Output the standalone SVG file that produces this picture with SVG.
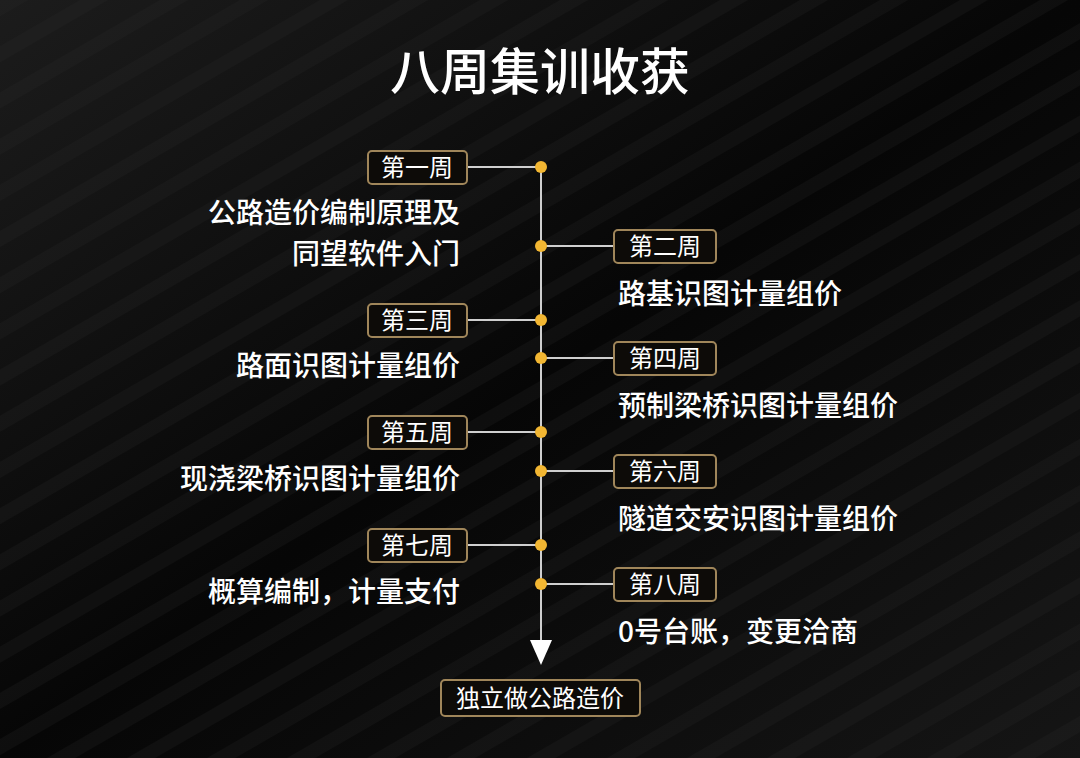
<svg xmlns="http://www.w3.org/2000/svg" width="1080" height="758" viewBox="0 0 1080 758">
<defs>
<style>
.t{font-family:"Noto Sans CJK SC","Noto Sans",sans-serif;fill:#fff;font-weight:500}
.box{fill:#0d0b08;stroke:#a0865a;stroke-width:2}
.lab{font-size:24px;text-anchor:middle;font-weight:400}
.desc{font-size:28px}
.ln{stroke:#cfcfcf;stroke-width:2;fill:none}
.dot{fill:#f2b632}
</style>
<linearGradient id="bg" x1="0" y1="0" x2="1" y2="1"><stop offset="0" stop-color="#1c1c1c"/><stop offset="0.5" stop-color="#060606"/><stop offset="1" stop-color="#151515"/></linearGradient>
<pattern id="st" width="40" height="40" patternUnits="userSpaceOnUse" patternTransform="rotate(-30)"><rect width="40" height="14" fill="#2a2a2a" opacity="0.5"/></pattern>
</defs>
<rect width="1080" height="758" fill="url(#bg)"/>
<rect width="1080" height="758" fill="url(#st)" opacity="0.45"/>
<text class="t" x="540" y="90" font-size="50" text-anchor="middle" font-weight="700">八周集训收获</text>
<g id="connectors">
<line class="ln" x1="541" y1="167" x2="541" y2="645"/>
<polygon points="530,640 552,640 541,665" fill="#fff"/>
<line class="ln" x1="467" y1="167" x2="541" y2="167"/>
<line class="ln" x1="541" y1="246" x2="614" y2="246"/>
<line class="ln" x1="467" y1="320" x2="541" y2="320"/>
<line class="ln" x1="541" y1="358" x2="614" y2="358"/>
<line class="ln" x1="467" y1="432" x2="541" y2="432"/>
<line class="ln" x1="541" y1="471" x2="614" y2="471"/>
<line class="ln" x1="467" y1="545" x2="541" y2="545"/>
<line class="ln" x1="541" y1="584" x2="614" y2="584"/>
<circle class="dot" cx="541" cy="167" r="6"/><circle class="dot" cx="541" cy="246" r="6"/>
<circle class="dot" cx="541" cy="320" r="6"/><circle class="dot" cx="541" cy="358" r="6"/>
<circle class="dot" cx="541" cy="432" r="6"/><circle class="dot" cx="541" cy="471" r="6"/>
<circle class="dot" cx="541" cy="545" r="6"/><circle class="dot" cx="541" cy="584" r="6"/>
</g>
<g id="w1"><rect class="box" x="368" y="151" width="99" height="33" rx="4"/><text class="t lab" x="417" y="176">第一周</text>
<text class="t desc" x="460" y="223" text-anchor="end">公路造价编制原理及</text><text class="t desc" x="460" y="264" text-anchor="end">同望软件入门</text></g>
<g id="w2"><rect class="box" x="614" y="230" width="102" height="33" rx="4"/><text class="t lab" x="665" y="255">第二周</text>
<text class="t desc" x="618" y="304">路基识图计量组价</text></g>
<g id="w3"><rect class="box" x="368" y="304" width="99" height="33" rx="4"/><text class="t lab" x="417" y="329">第三周</text>
<text class="t desc" x="460" y="376" text-anchor="end">路面识图计量组价</text></g>
<g id="w4"><rect class="box" x="614" y="342" width="102" height="33" rx="4"/><text class="t lab" x="665" y="367">第四周</text>
<text class="t desc" x="618" y="416">预制梁桥识图计量组价</text></g>
<g id="w5"><rect class="box" x="368" y="416" width="99" height="33" rx="4"/><text class="t lab" x="417" y="441">第五周</text>
<text class="t desc" x="460" y="489" text-anchor="end">现浇梁桥识图计量组价</text></g>
<g id="w6"><rect class="box" x="614" y="455" width="102" height="33" rx="4"/><text class="t lab" x="665" y="480">第六周</text>
<text class="t desc" x="618" y="529">隧道交安识图计量组价</text></g>
<g id="w7"><rect class="box" x="368" y="529" width="99" height="33" rx="4"/><text class="t lab" x="417" y="554">第七周</text>
<text class="t desc" x="460" y="602" text-anchor="end">概算编制，计量支付</text></g>
<g id="w8"><rect class="box" x="614" y="568" width="102" height="33" rx="4"/><text class="t lab" x="665" y="593">第八周</text>
<text class="t desc" x="618" y="642">0号台账，变更洽商</text></g>
<g id="goal"><rect class="box" x="441" y="680" width="199" height="36" rx="4"/><text class="t lab" x="540" y="707" font-size="25">独立做公路造价</text></g>
</svg>
